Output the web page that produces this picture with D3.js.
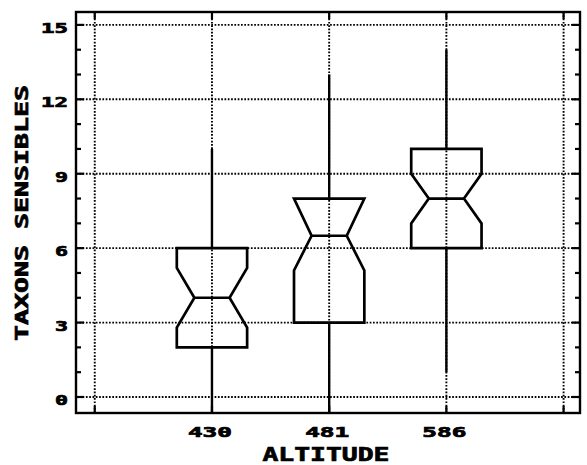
<!DOCTYPE html>
<html>
<head>
<meta charset="utf-8">
<script src="https://cdn.jsdelivr.net/npm/d3@7"></script>
<style>
  body { margin: 0; background: #fff; }
  text { font-family: "DejaVu Sans Mono", monospace; font-weight: bold; fill: #000; stroke: #000; stroke-width: 0.7px; }
</style>
</head>
<body>
<div id="chart"></div>
<script>

// data
var categories = ["430", "481", "586"]
var catPos = [1, 2, 3]
var whiskerLo = [-1, -1, 1]      // the two first run off the bottom of the frame
var q1 = [2, 3, 6]
var median = [4, 6.5, 8]
var q3 = [6, 8, 10]
var whiskerHi = [10, 13, 14]
var notchLo = [2.8, 5.1, 7]
var notchHi = [5.2, 8, 9]

var yTickLabels = [0, 3, 6, 9, 12, 15]
var yMinorTicks = [0, 1, 2, 3, 4, 5, 6, 7, 8, 9, 10, 11, 12, 13, 14, 15]
var xGrid = [0, 1, 2, 3, 4]

var width = 587,
    height = 465;

var x = d3.scaleLinear().domain([-0.16, 4.14]).range([76, 580]);
var y = d3.scaleLinear().domain([-0.645, 15.52]).range([413, 12]);

var boxHalf = 0.3,
    notchHalf = 0.15;

var svg = d3.select("#chart").append("svg")
    .attr("width", width)
    .attr("height", height);

svg.append("rect")
    .attr("width", width)
    .attr("height", height)
    .attr("fill", "#fff");

svg.append("clipPath").attr("id", "plot-clip")
  .append("rect")
    .attr("x", x(-0.16))
    .attr("y", y(15.52))
    .attr("width", x(4.14) - x(-0.16))
    .attr("height", y(-0.645) - y(15.52));

var plot = svg.append("g").attr("clip-path", "url(#plot-clip)");

/* dotted grid */
plot.selectAll(".hgrid")
  .data(yTickLabels)
  .enter().append("line")
    .attr("class", "hgrid")
    .attr("x1", x(-0.16))
    .attr("x2", x(4.14))
    .attr("y1", function(d) { return y(d); })
    .attr("y2", function(d) { return y(d); })
    .attr("stroke", "#000")
    .attr("stroke-width", 1.9)
    .attr("stroke-dasharray", "1.7,1.6");

plot.selectAll(".vgrid")
  .data(xGrid)
  .enter().append("line")
    .attr("class", "vgrid")
    .attr("x1", function(d) { return x(d); })
    .attr("x2", function(d) { return x(d); })
    .attr("y1", y(15.52))
    .attr("y2", y(-0.645))
    .attr("stroke", "#000")
    .attr("stroke-width", 1.9)
    .attr("stroke-dasharray", "1.7,1.6");

/* boxes */
var boxes = categories.map(function(c, i) {
  return { cat: c, pos: catPos[i], lo: whiskerLo[i], q1: q1[i], med: median[i],
           q3: q3[i], hi: whiskerHi[i], nlo: Math.max(notchLo[i], q1[i]), nhi: Math.min(notchHi[i], q3[i]) };
});

function boxPath(d) {
  var l = x(d.pos - boxHalf), r = x(d.pos + boxHalf),
      nl = x(d.pos - notchHalf), nr = x(d.pos + notchHalf);
  return "M" + l + "," + y(d.q1) +
         "L" + l + "," + y(d.nlo) +
         "L" + nl + "," + y(d.med) +
         "L" + l + "," + y(d.nhi) +
         "L" + l + "," + y(d.q3) +
         "L" + r + "," + y(d.q3) +
         "L" + r + "," + y(d.nhi) +
         "L" + nr + "," + y(d.med) +
         "L" + r + "," + y(d.nlo) +
         "L" + r + "," + y(d.q1) + "Z" +
         "M" + nl + "," + y(d.med) + "L" + nr + "," + y(d.med);
}

var g = plot.selectAll(".box")
  .data(boxes)
  .enter().append("g")
    .attr("class", "box");

g.append("line")
    .attr("x1", function(d) { return x(d.pos); })
    .attr("x2", function(d) { return x(d.pos); })
    .attr("y1", function(d) { return y(d.q3); })
    .attr("y2", function(d) { return y(d.hi); })
    .attr("stroke", "#000")
    .attr("stroke-width", 2.4);

g.append("line")
    .attr("x1", function(d) { return x(d.pos); })
    .attr("x2", function(d) { return x(d.pos); })
    .attr("y1", function(d) { return y(d.q1); })
    .attr("y2", function(d) { return y(d.lo); })
    .attr("stroke", "#000")
    .attr("stroke-width", 2.4);

g.append("path")
    .attr("d", boxPath)
    .attr("fill", "none")
    .attr("stroke", "#000")
    .attr("stroke-width", 2.7)
    .attr("stroke-linejoin", "miter");

/* frame and inward ticks */
svg.append("rect")
    .attr("x", x(-0.16))
    .attr("y", y(15.52))
    .attr("width", x(4.14) - x(-0.16))
    .attr("height", y(-0.645) - y(15.52))
    .attr("fill", "none")
    .attr("stroke", "#000")
    .attr("stroke-width", 2.4);

function tickLen(d) { return (d % 3 == 0) ? 8 : 5; }

svg.selectAll(".ltick")
  .data(yMinorTicks)
  .enter().append("line")
    .attr("x1", x(-0.16))
    .attr("x2", function(d) { return x(-0.16) + tickLen(d); })
    .attr("y1", function(d) { return y(d); })
    .attr("y2", function(d) { return y(d); })
    .attr("stroke", "#000")
    .attr("stroke-width", 2.2);

svg.selectAll(".rtick")
  .data(yMinorTicks)
  .enter().append("line")
    .attr("x1", x(4.14))
    .attr("x2", function(d) { return x(4.14) - tickLen(d); })
    .attr("y1", function(d) { return y(d); })
    .attr("y2", function(d) { return y(d); })
    .attr("stroke", "#000")
    .attr("stroke-width", 2.2);

svg.selectAll(".ttick")
  .data(xGrid)
  .enter().append("line")
    .attr("x1", function(d) { return x(d); })
    .attr("x2", function(d) { return x(d); })
    .attr("y1", y(15.52))
    .attr("y2", y(15.52) + 7)
    .attr("stroke", "#000")
    .attr("stroke-width", 2.2);

svg.selectAll(".btick")
  .data(xGrid)
  .enter().append("line")
    .attr("x1", function(d) { return x(d); })
    .attr("x2", function(d) { return x(d); })
    .attr("y1", y(-0.645))
    .attr("y2", y(-0.645) - 7)
    .attr("stroke", "#000")
    .attr("stroke-width", 2.2);

/* labels: the plotter font is very wide, so stretch with textLength */
svg.selectAll(".ylabel")
  .data(yTickLabels)
  .enter().append("text")
    .attr("class", "ylabel")
    .attr("x", 68)
    .attr("y", function(d) { return y(d) + 8; })
    .attr("text-anchor", "end")
    .style("font-size", "14px")
    .attr("textLength", function(d) { return String(d).length * 14 - 1; })
    .attr("lengthAdjust", "spacingAndGlyphs")
    .text(function(d) { return d; });

svg.selectAll(".xlabel")
  .data(boxes)
  .enter().append("text")
    .attr("class", "xlabel")
    .attr("x", function(d) { return x(d.pos) - 2; })
    .attr("y", 437)
    .attr("text-anchor", "middle")
    .style("font-size", "14px")
    .attr("textLength", 44)
    .attr("lengthAdjust", "spacingAndGlyphs")
    .text(function(d) { return d.cat; });

svg.append("text")
    .attr("x", 326)
    .attr("y", 461)
    .attr("text-anchor", "middle")
    .style("font-size", "19px")
    .attr("textLength", 127)
    .attr("lengthAdjust", "spacingAndGlyphs")
    .text("ALTITUDE");

svg.append("text")
    .attr("transform", "translate(28,213) rotate(-90)")
    .attr("text-anchor", "middle")
    .style("font-size", "18px")
    .attr("textLength", 256)
    .attr("lengthAdjust", "spacingAndGlyphs")
    .text("TAXONS SENSIBLES");

</script>
</body>
</html>
